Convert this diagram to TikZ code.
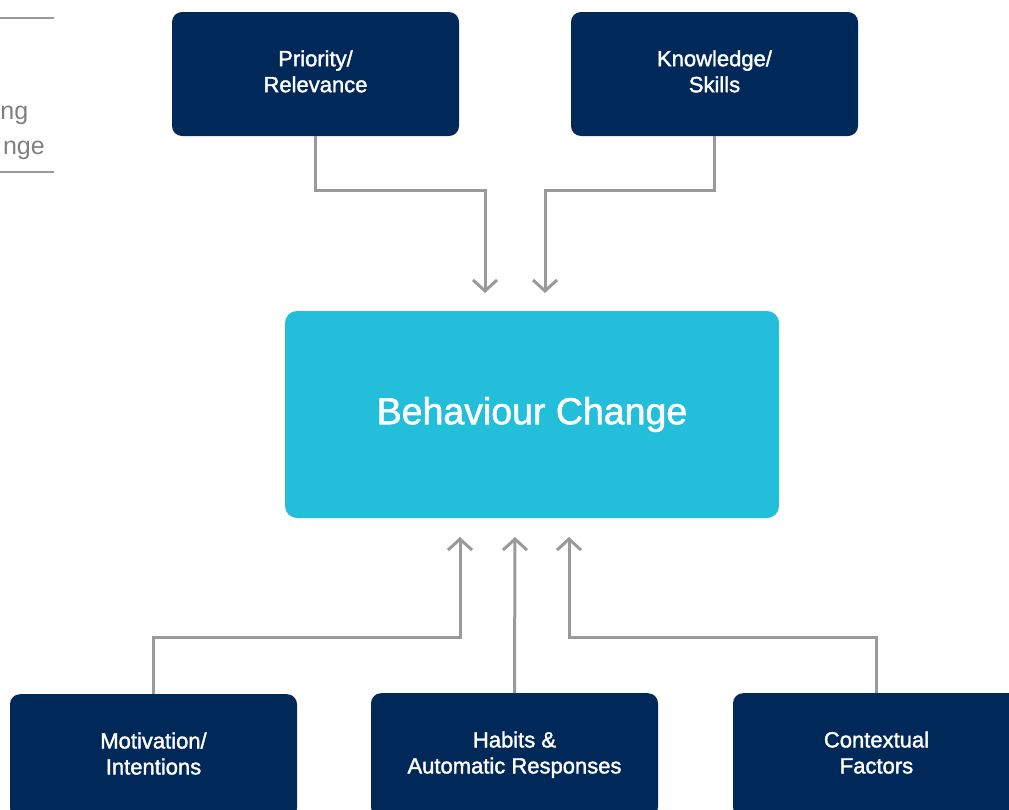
\documentclass[tikz,border=0pt]{standalone}
\usepackage{fontspec}
\setmainfont{Liberation Sans}
\newfontfamily\medfont{Liberation Sans}[FakeBold=1.6]
\usepackage{xcolor}
\usetikzlibrary{arrows.meta,calc}
\definecolor{navy}{RGB}{0,41,90}
\definecolor{cyanbox}{RGB}{34,190,218}
\definecolor{linegrey}{RGB}{154,154,154}
\definecolor{textgrey}{RGB}{128,128,128}

\begin{document}
\begin{tikzpicture}[x=1pt,y=-1pt,
  darkbox/.style={fill=navy,rounded corners=10pt,minimum width=287pt,minimum height=124pt,
    text=white,align=center,font=\medfont\fontsize{22}{26}\selectfont,inner sep=0pt},
  mainbox/.style={fill=cyanbox,rounded corners=12pt,minimum width=494pt,minimum height=207pt,
    text=white,font=\medfont\fontsize{37.5}{42}\selectfont,inner sep=0pt},
  arr/.style={draw=linegrey,line width=3pt,-{Straight Barb[length=11pt,width=24pt]}},
  side/.style={text=textgrey,font=\fontsize{25}{30}\selectfont,anchor=base east,inner sep=0pt}]
\useasboundingbox (0,0) rectangle (1009,809);
\clip (0,0) rectangle (1009,809);
% left margin
\draw[linegrey,line width=2pt] (0,18) -- (54,18);
\draw[linegrey,line width=2pt] (0,172) -- (54,172);
\node[side] (s1) at (28.5,119) {ng};
\node[side] (s2) at (45,154) {nge};
% boxes
\node[darkbox] (prio) at (315.5,74) {\strut Priority/\\\strut Relevance};
\node[darkbox] (know) at (714.5,74) {\strut Knowledge/\\\strut Skills};
\node[mainbox] (bc) at (532,414.5) {Behaviour Change};
\node[darkbox,anchor=north] (moti) at (153.5,694) {\strut Motivation/\\\strut Intentions};
\node[darkbox,anchor=north] (habit) at (514.5,693) {\strut Habits \&\\\strut Automatic Responses};
\node[darkbox,anchor=north] (cont) at (876.5,693) {\strut Contextual\\\strut Factors};
\coordinate (inA) at (485,293);
\coordinate (inB) at (545,293);
\coordinate (inC) at (460,537);
\coordinate (inD) at (515,537);
\coordinate (inE) at (569,537);
% connectors
\draw[arr] (prio.south) -- (prio.south |- 0,190) -| (inA);
\draw[arr] (know.south) -- (know.south |- 0,190) -| (inB);
\draw[arr] (moti.north) -- (moti.north |- 0,637) -| (inC);
\draw[arr] (habit.north) -- (inD);
\draw[arr] (cont.north) -- (cont.north |- 0,637) -| (inE);
\end{tikzpicture}
\end{document}
